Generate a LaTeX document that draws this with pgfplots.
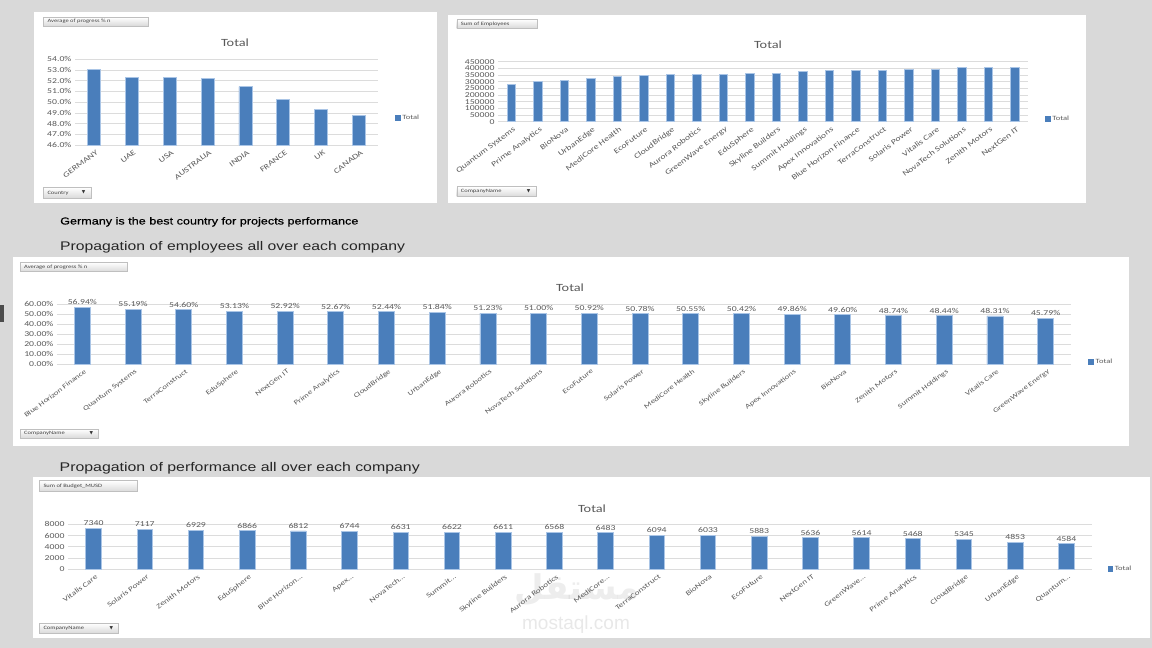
\documentclass[border=0pt]{standalone}
\usepackage{fontspec}
\setmainfont{Liberation Sans}
\newfontfamily\xl[FakeStretch=1.3]{Carlito}
\newfontfamily\hd[FakeStretch=1.26]{Liberation Sans}
\newfontfamily\hdb[FakeStretch=1.25,FakeBold=0.6]{Liberation Sans}
\newfontfamily\djsym{DejaVu Sans}
\newfontfamily\arabicfont[Script=Arabic]{DejaVu Sans}
\TeXXeTstate=1
\usepackage{pgfplots}
\pgfplotsset{compat=1.18}
\definecolor{bg}{RGB}{217,217,217}
\definecolor{barblue}{RGB}{74,126,187}
\definecolor{baredge}{RGB}{170,197,230}
\definecolor{gridc}{RGB}{220,220,220}
\definecolor{txt}{RGB}{89,89,89}

\newcommand{\btn}[5]{%
  \shade[top color=white, bottom color=gray!30, draw=gray!50, line width=0.4pt] (#1,#2) rectangle (#3,#4);
  \node[anchor=west, font=\xl\fontsize{5}{6}\selectfont, text=black!75, inner sep=0pt] at (#1+4,{(#2+#4)/2}) {#5};}
\newcommand{\arrowbtn}[3]{%
  \node[font=\djsym\fontsize{4.5}{5}\selectfont, text=black!80, inner sep=0pt] at (#1-7,{(#2+#3)/2}) {▼};}

\pgfplotsset{
  xlstyle/.style={
    scale only axis,
    axis line style={draw=none},
    ymajorgrids,
    grid style={gridc, line width=0.7pt},
    major tick length=0pt,
    tick label style={font=\xl\fontsize{7.5}{8}\selectfont, text=txt},
    /pgf/number format/assume math mode=true,
    scaled y ticks=false,
    xtick=data,
    x tick label style={rotate=37, anchor=north east, inner sep=1.5pt, yshift=-3pt},
    ybar,
    clip=false,
    legend style={draw=none, fill=none, anchor=west, font=\xl\fontsize{6.5}{7}\selectfont, text=txt, inner sep=0pt, legend cell align=left},
  },
  barsty/.style={fill=barblue, draw=baredge, line width=0.8pt,
    legend image code/.code={\fill[barblue] (0pt,-2pt) rectangle (4.5pt,2.5pt);}},
}

\begin{document}
\begin{tikzpicture}[x=1pt,y=1pt]
\fill[bg] (0,0) rectangle (1152,648);
\fill[black!70] (0,326) rectangle (4,343);
% panels
\fill[white] (34,445) rectangle (437,636.3);
\fill[white] (448,445) rectangle (1086,633);
\fill[white] (12.7,202) rectangle (1129,391.3);
\fill[white] (33,10) rectangle (1150,171.3);

% headings
\node[anchor=base west, font=\hdb\fontsize{10.1}{11}\selectfont, inner sep=0pt] at (60,423.5) {Germany is the best country for projects performance};
\node[anchor=base west, font=\hd\fontsize{12.5}{14}\selectfont, text=black!85, inner sep=0pt] at (60,397) {Propagation of employees all over each company};
\node[anchor=base west, font=\hd\fontsize{12.6}{14}\selectfont, text=black!85, inner sep=0pt] at (59.5,176.3) {Propagation of performance all over each company};

% ---------- Chart A: country
\begin{axis}[xlstyle, at={(75pt,503pt)}, anchor=south west, width=303pt, height=85.7pt,
  xmin=-0.5, xmax=7.5, ymin=46, ymax=54, ytick={46,47,...,54},
  yticklabel={\pgfmathprintnumber[fixed,fixed zerofill,precision=1]{\tick}\%},
  xticklabels={GERMANY,UAE,USA,AUSTRALIA,INDIA,FRANCE,UK,CANADA},
  bar width=13pt,
  legend style={at={(1.056,0.315)}}]
\addplot[barsty] coordinates {(0,53.07) (1,52.32) (2,52.32) (3,52.23) (4,51.45) (5,50.27) (6,49.36) (7,48.77)};
\addlegendentry{Total}
\end{axis}
\node[font=\xl\fontsize{11}{12}\selectfont, text=txt] at (235,605.7) {Total};
\btn{43.3}{622}{148.3}{630.7}{Average of progress \% n}
\btn{43.3}{449.7}{90.7}{460.7}{Country}
\arrowbtn{90.7}{449.7}{460.7}

% ---------- Chart B: employees
\begin{axis}[xlstyle, at={(498pt,526.3pt)}, anchor=south west, width=530pt, height=60pt,
  xmin=-0.5, xmax=19.5, ymin=0, ymax=450000, ytick={0,50000,...,450000},
  yticklabel={\pgfmathprintnumber[fixed,precision=0,1000 sep={}]{\tick}},
  xticklabels={Quantum Systems,Prime Analytics,BioNova,UrbanEdge,MediCore Health,EcoFuture,CloudBridge,Aurora Robotics,GreenWave Energy,EduSphere,Skyline Builders,Summit Holdings,Apex Innovations,Blue Horizon Finance,TerraConstruct,Solaris Power,Vitalis Care,NovaTech Solutions,Zenith Motors,NextGen IT},
  bar width=8.5pt,
  legend style={at={(1.032,0.045)}}]
\addplot[barsty] coordinates {(0,282500) (1,302500) (2,312500) (3,327500) (4,342500) (5,343500) (6,357500) (7,357500) (8,357500) (9,362500) (10,362500) (11,375000) (12,382500) (13,382500) (14,387500) (15,392500) (16,392500) (17,407500) (18,407500) (19,407500)};
\addlegendentry{Total}
\end{axis}
\node[font=\xl\fontsize{11}{12}\selectfont, text=txt] at (768,603) {Total};
\btn{456.7}{619.7}{536.7}{628.7}{Sum of Employees}
\btn{456.7}{451.3}{535.7}{461.3}{CompanyName}
\arrowbtn{535.7}{451.3}{461.3}

% ---------- Chart C: progress by company
\begin{axis}[xlstyle, at={(57pt,284pt)}, anchor=south west, width=1014pt, height=59.7pt,
  xmin=-0.5, xmax=19.5, ymin=0, ymax=60, ytick={0,10,...,60},
  yticklabel={\pgfmathprintnumber[fixed,fixed zerofill,precision=2]{\tick}\%},
  xticklabels={Blue Horizon Finance,Quantum Systems,TerraConstruct,EduSphere,NextGen IT,Prime Analytics,CloudBridge,UrbanEdge,Aurora Robotics,NovaTech Solutions,EcoFuture,Solaris Power,MediCore Health,Skyline Builders,Apex Innovations,BioNova,Zenith Motors,Summit Holdings,Vitalis Care,GreenWave Energy},
  x tick label style={font=\xl\fontsize{6.8}{7}\selectfont},
  bar width=16pt,
  nodes near coords={\pgfmathprintnumber[fixed,fixed zerofill,precision=2]{\pgfplotspointmeta}\%},
  every node near coord/.append style={font=\xl\fontsize{7.5}{8}\selectfont, text=txt, inner sep=2pt},
  legend style={at={(1.017,0.03)}}]
\addplot[barsty] coordinates {(0,56.94) (1,55.19) (2,54.60) (3,53.13) (4,52.92) (5,52.67) (6,52.44) (7,51.84) (8,51.23) (9,51.00) (10,50.92) (11,50.78) (12,50.55) (13,50.42) (14,49.86) (15,49.60) (16,48.74) (17,48.44) (18,48.31) (19,45.79)};
\addlegendentry{Total}
\end{axis}
\node[font=\xl\fontsize{11}{12}\selectfont, text=txt] at (570,360.3) {Total};
\btn{20}{376.3}{126.7}{385.7}{Average of progress \% n}
\btn{20}{209.7}{98.3}{219}{CompanyName}
\arrowbtn{98.3}{209.7}{219}

% ---------- Chart D: budget
\begin{axis}[xlstyle, at={(68pt,78.7pt)}, anchor=south west, width=1024pt, height=45pt,
  xmin=-0.5, xmax=19.5, ymin=0, ymax=8000, ytick={0,2000,...,8000},
  yticklabel={\pgfmathprintnumber[fixed,precision=0,1000 sep={}]{\tick}},
  xticklabels={Vitalis Care,Solaris Power,Zenith Motors,EduSphere,Blue Horizon…,Apex…,NovaTech…,Summit…,Skyline Builders,Aurora Robotics,MediCore…,TerraConstruct,BioNova,EcoFuture,NextGen IT,GreenWave…,Prime Analytics,CloudBridge,UrbanEdge,Quantum…},
  x tick label style={font=\xl\fontsize{7}{7.5}\selectfont},
  bar width=15.5pt,
  nodes near coords={\pgfmathprintnumber[fixed,precision=0,1000 sep={}]{\pgfplotspointmeta}},
  every node near coord/.append style={font=\xl\fontsize{7.5}{8}\selectfont, text=txt, inner sep=2pt},
  legend style={at={(1.015,0.007)}}]
\addplot[barsty] coordinates {(0,7340) (1,7117) (2,6929) (3,6866) (4,6812) (5,6744) (6,6631) (7,6622) (8,6611) (9,6568) (10,6483) (11,6094) (12,6033) (13,5883) (14,5636) (15,5614) (16,5468) (17,5345) (18,4853) (19,4584)};
\addlegendentry{Total}
\end{axis}
\node[font=\xl\fontsize{11}{12}\selectfont, text=txt] at (592,139.7) {Total};
\btn{39.3}{156.3}{136.7}{167.3}{Sum of Budget\_MUSD}
\btn{39.3}{14.7}{118.3}{24.7}{CompanyName}
\arrowbtn{118.3}{14.7}{24.7}

% watermark
\node[font=\arabicfont\bfseries\fontsize{34}{36}\selectfont, text=gray, opacity=0.14] at (577,58) {\beginR مستقل\endR};
\node[font=\fontsize{19}{20}\selectfont, text=gray, opacity=0.18] at (576,23) {mostaql.com};

\pgfresetboundingbox
\path[use as bounding box] (0,0) rectangle (1152,648);
\end{tikzpicture}
\end{document}
